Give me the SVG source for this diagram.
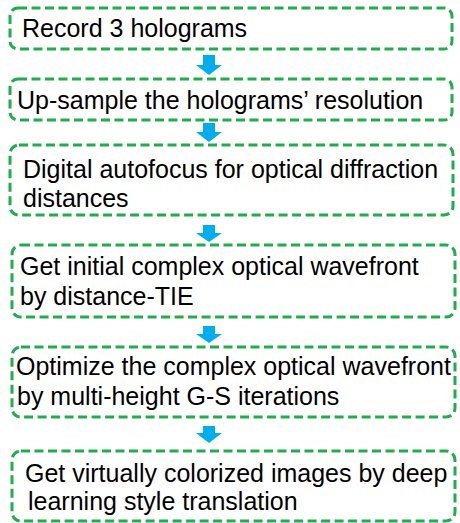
<svg xmlns="http://www.w3.org/2000/svg" width="460" height="523" viewBox="0 0 460 523">
<style>
.box{fill:#fff;stroke:#1fae4b;stroke-width:3;stroke-dasharray:9 4.5}
.t{font-family:"Liberation Sans",Arial,sans-serif;font-size:25px;fill:#000}
.arr{fill:#00aeef}
</style>
<rect width="460" height="523" fill="#fff"/>
<g id="n1"><rect class="box" x="10" y="8" width="442" height="41" rx="8"/><text class="t" x="22" y="37">Record 3 holograms</text></g>
<g id="n2"><rect class="box" x="10" y="79" width="442" height="41" rx="8"/><text class="t" x="17" y="109">Up-sample the holograms’ resolution</text></g>
<g id="n3"><rect class="box" x="10" y="145" width="443" height="70" rx="9"/><text class="t" x="23" y="178">Digital autofocus for optical diffraction</text><text class="t" x="23" y="207">distances</text></g>
<g id="n4"><rect class="box" x="12" y="245" width="443" height="72" rx="9"/><text class="t" x="20" y="275">Get initial complex optical wavefront</text><text class="t" x="20" y="305">by distance-TIE</text></g>
<g id="n5"><rect class="box" x="12" y="347" width="443" height="70" rx="9"/><text class="t" x="16" y="375">Optimize the complex optical wavefront</text><text class="t" x="17" y="405">by multi-height G-S iterations</text></g>
<g id="n6"><rect class="box" x="12" y="451" width="443" height="70" rx="9"/><text class="t" x="25" y="482">Get virtually colorized images by deep</text><text class="t" x="28" y="510">learning style translation</text></g>
<g id="connectors">
<polygon class="arr" points="203,55 215,55 215,65 222,65 209,75 196,65 203,65"/>
<polygon class="arr" points="203,123 215,123 215,132 222,132 209,142 196,132 203,132"/>
<polygon class="arr" points="203,225 215,225 215,233 222,233 209,242 196,233 203,233"/>
<polygon class="arr" points="203,326 215,326 215,334 222,334 209,343 196,334 203,334"/>
<polygon class="arr" points="203,426 215,426 215,433 222,433 209,443 196,433 203,433"/>
</g>
</svg>
